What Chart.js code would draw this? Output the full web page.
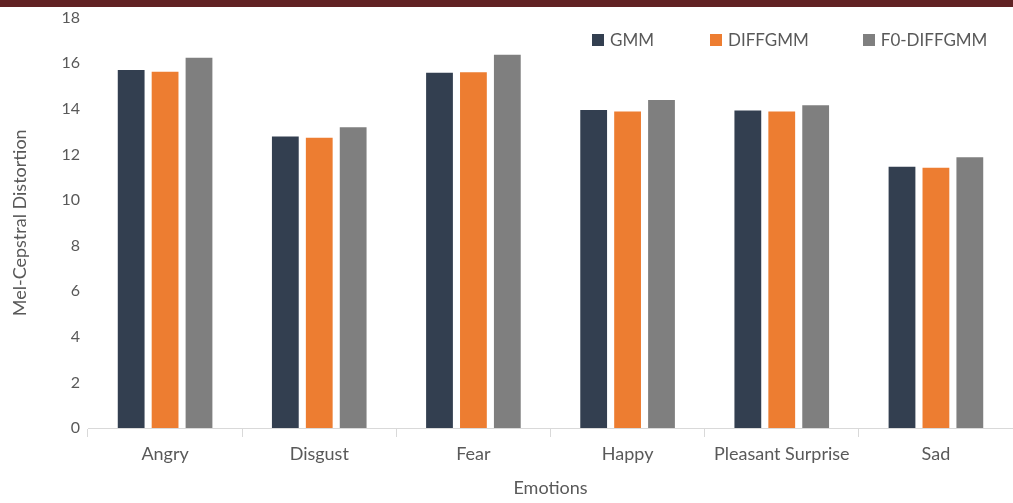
<!DOCTYPE html>
<html>
<head>
<meta charset="utf-8">
<script src="https://cdn.jsdelivr.net/npm/chart.js@4.4.1/dist/chart.umd.min.js"></script>
<style>
  html, body { margin: 0; padding: 0; background: #fff; }
  .wrap { position: relative; width: 1013px; height: 503px; overflow: hidden; font-family: Lato, "Open Sans", sans-serif; }
  .topbar { position: absolute; left: 0; top: 0; width: 100%; height: 7px; background: #612224; z-index: 2; }
  #chart { position: absolute; left: 0; top: 0; }
  .legend { position: absolute; top: 29px; left: 592px; display: flex; font-size: 17px; color: #595959; }
  .legend-item { display: flex; align-items: center; }
  .legend-box { width: 12px; height: 12px; margin-right: 6px; }
</style>
</head>
<body>
<div class="wrap">
  <div class="topbar"></div>
  <canvas id="chart" width="1013" height="503"></canvas>
  <div class="legend" id="legend"></div>
</div>
<script>
// --- data ---
const emotions = ['Angry', 'Disgust', 'Fear', 'Happy', 'Pleasant Surprise', 'Sad'];
const seriesNames = ['GMM', 'DIFFGMM', 'F0-DIFFGMM'];
const gmm = [15.70, 12.78, 15.58, 13.95, 13.92, 11.46];
const diffGmm = [15.63, 12.73, 15.60, 13.88, 13.88, 11.41];
const f0DiffGmm = [16.24, 13.19, 16.37, 14.39, 14.16, 11.87];
const yTicks = [0, 2, 4, 6, 8, 10, 12, 14, 16, 18];

const colors = ['#333f50', '#ed7d31', '#7f7f7f'];
const textColor = '#595959';
const axisColor = '#d9d9d9';
const allSeries = [gmm, diffGmm, f0DiffGmm];

// html legend (placed inside the plot like the original)
const legendEl = document.getElementById('legend');
const legendGaps = [0, 56, 54];
seriesNames.forEach((name, i) => {
  const item = document.createElement('div');
  item.className = 'legend-item';
  item.style.marginLeft = legendGaps[i] + 'px';
  item.innerHTML = `<span class="legend-box" style="background:${colors[i]}"></span><span>${name}</span>`;
  legendEl.appendChild(item);
});

new Chart(document.getElementById('chart'), {
  type: 'bar',
  data: {
    labels: emotions,
    datasets: seriesNames.map((name, i) => ({
      label: name,
      data: allSeries[i],
      backgroundColor: colors[i],
      borderWidth: 0,
      categoryPercentage: 0.66,
      barPercentage: 0.79
    }))
  },
  options: {
    responsive: false,
    animation: false,
    layout: { padding: { top: 9, right: 0, left: 0, bottom: 0 } },
    plugins: { legend: { display: false }, tooltip: { enabled: false } },
    scales: {
      x: {
        grid: { display: true, drawOnChartArea: false, drawTicks: true, tickLength: 9, color: axisColor, offset: true },
        border: { display: true, color: axisColor, width: 1 },
        ticks: { color: textColor, font: { family: 'Lato', size: 18 }, padding: 6, maxRotation: 0, autoSkip: false },
        title: { display: true, text: 'Emotions', color: textColor, font: { family: 'Lato', size: 18 }, padding: { top: 20 } },
        afterFit: s => { s.height = 75; }
      },
      y: {
        min: 0, max: 18,
        afterBuildTicks: s => { s.ticks = yTicks.map(v => ({ value: v })); },
        grid: { display: false, drawTicks: false },
        border: { display: false },
        ticks: { color: textColor, font: { family: 'Lato', size: 16 }, padding: 8 },
        title: { display: true, text: 'Mel-Cepstral Distortion', color: textColor, font: { family: 'Lato', size: 18 }, padding: { top: 9, bottom: 0 } },
        afterFit: s => { s.width = 88; }
      }
    }
  }
});
</script>
</body>
</html>
